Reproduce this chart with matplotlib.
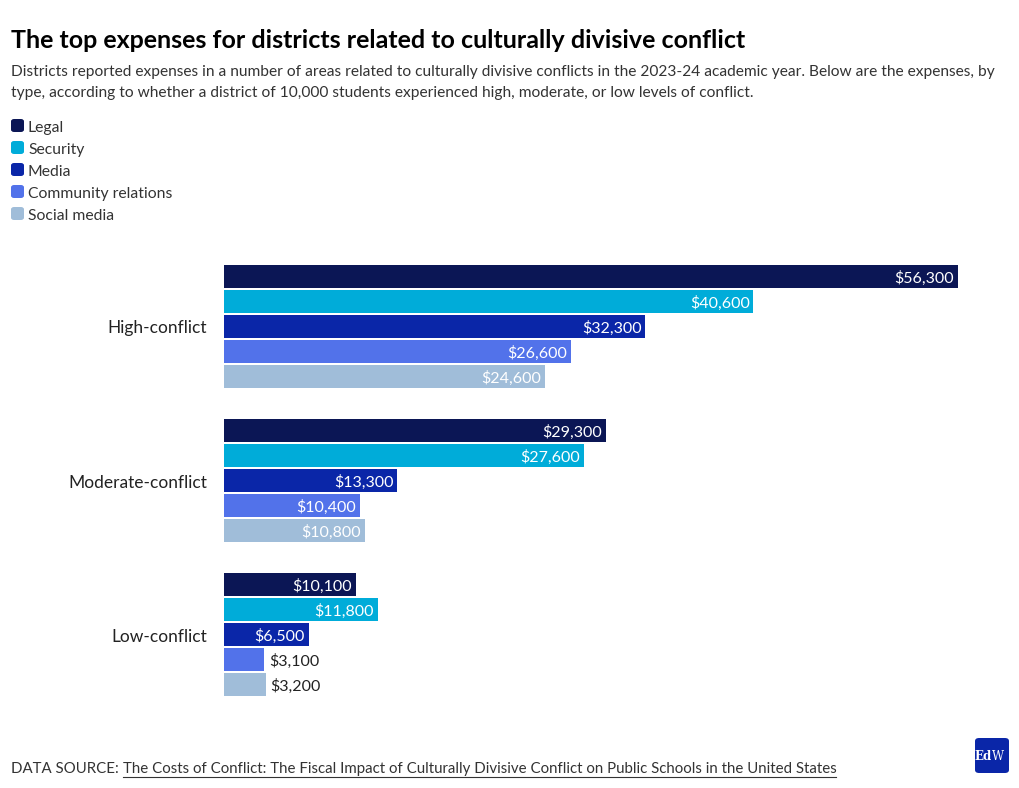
import matplotlib
matplotlib.use("Agg")
import matplotlib.pyplot as plt
from matplotlib.patches import FancyBboxPatch
from matplotlib.lines import Line2D

groups = ["High-conflict", "Moderate-conflict", "Low-conflict"]
series = ["Legal", "Security", "Media", "Community relations", "Social media"]
values = {
	"Legal": [56300, 29300, 10100],
	"Security": [40600, 27600, 11800],
	"Media": [32300, 13300, 6500],
	"Community relations": [26600, 10400, 3100],
	"Social media": [24600, 10800, 3200],
}
colors = ["#0b1655", "#00acd9", "#0a26a8", "#5272ea", "#a0bdd9"]

W, H = 1020, 788
plt.rcParams["font.family"] = ["Lato", "DejaVu Sans"]

fig = plt.figure(figsize=(W / 100, H / 100), dpi=100)

def px(x, y):
	return x / W, 1 - y / H

# chart area in pixels
left, right, top, bottom = 224, 958, 265, 697
ax = fig.add_axes([left / W, 1 - bottom / H, (right - left) / W, (bottom - top) / H])

bar_step = 25
bar_h = 23
group_step = 154
xmax = max(values["Legal"])
for gi, g in enumerate(groups):
	for si, s in enumerate(series):
		v = values[s][gi]
		yc = gi * group_step + si * bar_step + bar_h / 2
		ax.barh(yc, v, height=bar_h, color=colors[si], left=0)
		lab = f"${v:,}"
		if v / xmax * (right - left) > 70:
			ax.text(v - xmax * 0.005, yc + 1.5, lab, ha="right", va="center",
				color="white", fontsize=11.5)
		else:
			ax.text(v + xmax * 0.006, yc + 1.5, lab, ha="left", va="center",
				color="#222222", fontsize=11.5)
	ax.text(-xmax * 0.023, gi * group_step + 2 * bar_step + bar_h / 2 + 2, g,
		ha="right", va="center", fontsize=12.5, color="#222222")

ax.set_xlim(0, xmax)
ax.set_ylim(bottom - top, 0)
ax.axis("off")

# title, subtitle
fig.text(*px(11, 41), "The top expenses for districts related to culturally divisive conflict",
	fontsize=18, fontweight="bold", va="center", ha="left", color="#000000")
fig.text(*px(11, 72), "Districts reported expenses in a number of areas related to culturally divisive conflicts in the 2023-24 academic year. Below are the expenses, by",
	fontsize=11.2, va="center", ha="left", color="#333333")
fig.text(*px(11, 93), "type, according to whether a district of 10,000 students experienced high, moderate, or low levels of conflict.",
	fontsize=11.2, va="center", ha="left", color="#333333")

# legend
for i, s in enumerate(series):
	y = 126 + i * 22
	fig.patches.append(FancyBboxPatch(px(11, y + 6), 13 / W, 13 / H,
		boxstyle="round,pad=0,rounding_size=0.003", transform=fig.transFigure,
		facecolor=colors[i], edgecolor="none"))
	fig.text(*px(28, y + 2), s, fontsize=11.3, va="center", ha="left", color="#333333")

# source line
renderer = fig.canvas.get_renderer()
t1 = fig.text(*px(11, 769), "DATA SOURCE: ", fontsize=10.8, va="center", ha="left", color="#333333")
bb = t1.get_window_extent(renderer)
t2 = fig.text(bb.x1 / W, 1 - 769 / H,
	"The Costs of Conflict: The Fiscal Impact of Culturally Divisive Conflict on Public Schools in the United States",
	fontsize=10.8, va="center", ha="left", color="#333333")
bb2 = t2.get_window_extent(renderer)
fig.lines.append(Line2D([bb2.x0 / W, bb2.x1 / W], [1 - 776.5 / H, 1 - 776.5 / H],
	transform=fig.transFigure, color="#333333", linewidth=0.8))

# logo
fig.patches.append(FancyBboxPatch(px(975, 773), 34 / W, 35 / H,
	boxstyle="round,pad=0,rounding_size=0.004", transform=fig.transFigure,
	facecolor="#0a26a8", edgecolor="none"))
fig.text(*px(991.5, 756), "Ed", fontsize=8.5, family="DejaVu Serif", fontweight="bold",
	color="white", ha="right", va="center")
fig.text(*px(991.5, 756), "W", fontsize=8.5, family="DejaVu Serif",
	color="white", ha="left", va="center")

fig.savefig("out.png", dpi=100, facecolor="white")
